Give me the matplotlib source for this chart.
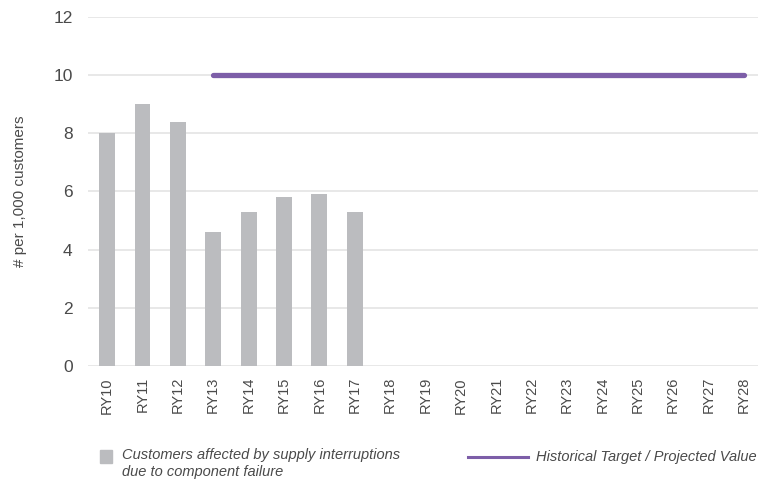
import matplotlib
matplotlib.use("Agg")
import matplotlib.pyplot as plt
from matplotlib.patches import Rectangle
from matplotlib.lines import Line2D

plt.rcParams['font.family'] = ['Liberation Sans', 'DejaVu Sans']

# Regulatory years shown on the x axis
years = ["RY10", "RY11", "RY12", "RY13", "RY14", "RY15", "RY16", "RY17", "RY18",
         "RY19", "RY20", "RY21", "RY22", "RY23", "RY24", "RY25", "RY26", "RY27", "RY28"]

# Customers affected by supply interruptions due to component failure (# per 1,000)
actual_years = ["RY10", "RY11", "RY12", "RY13", "RY14", "RY15", "RY16", "RY17"]
actual_values = [8.0, 9.0, 8.4, 4.6, 5.3, 5.8, 5.9, 5.3]

# Historical target / projected value
target_years = ["RY13", "RY14", "RY15", "RY16", "RY17", "RY18", "RY19", "RY20",
                "RY21", "RY22", "RY23", "RY24", "RY25", "RY26", "RY27", "RY28"]
target_values = [10] * len(target_years)

yticks = [0, 2, 4, 6, 8, 10, 12]

BAR = "#bbbcbf"
PURPLE = "#7d5ea8"
TEXT = "#4a4a4a"

fig = plt.figure(figsize=(7.6, 4.84), dpi=100)
ax = fig.add_axes([0.1158, 0.2438, 0.8812, 0.7212])

pos = {y: i for i, y in enumerate(years)}
ax.bar([pos[y] for y in actual_years], actual_values, width=0.45, color=BAR, zorder=2)
ax.plot([pos[y] for y in target_years], target_values, color=PURPLE, lw=3.8,
        solid_capstyle="round", zorder=3)

ax.set_xlim(-0.54, 18.39)
ax.set_ylim(0, 12)
ax.set_yticks(yticks)
ax.set_xticks(range(len(years)))
ax.set_xticklabels(years, rotation=90)
ax.grid(axis="y", color="#e2e2e2", lw=1.1, zorder=0)
ax.set_axisbelow(True)
for s in ax.spines.values():
    s.set_visible(False)
ax.tick_params(axis="both", length=0, colors=TEXT)
ax.tick_params(axis="y", pad=11, labelsize=12.5)
ax.tick_params(axis="x", pad=8, labelsize=10.5)
ax.set_ylabel("# per 1,000 customers", fontsize=11, color=TEXT)
ax.yaxis.set_label_coords(-0.091, 0.5)

# Legend drawn in figure coordinates
fig.add_artist(Rectangle((0.1316, 0.0434), 0.0158, 0.0268, transform=fig.transFigure,
                         color=BAR))
fig.text(0.1605, 0.0735, "Customers affected by supply interruptions\ndue to component failure",
         fontsize=10.5, style="italic", color=TEXT, va="top", ha="left", linespacing=1.2)
fig.add_artist(Line2D([0.6158, 0.6947], [0.0558, 0.0558], transform=fig.transFigure,
                      color=PURPLE, lw=2.2))
fig.text(0.705, 0.0558, "Historical Target / Projected Value", fontsize=10.5,
         style="italic", color=TEXT, va="center", ha="left")

fig.savefig("out.png", dpi=100)
